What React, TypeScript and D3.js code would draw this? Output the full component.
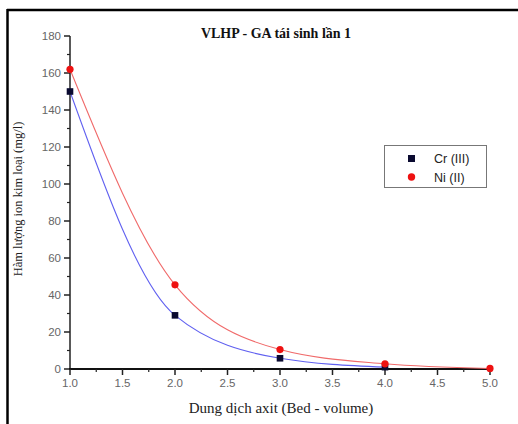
import React from "react";
import * as d3 from "d3";

const xValues = [1.0, 2.0, 3.0, 4.0, 5.0];
const crValues = [150, 29, 5.8, 1.0];
const niValues = [162, 45.5, 10.5, 2.8, 0.3];
const xTicks = [1.0, 1.5, 2.0, 2.5, 3.0, 3.5, 4.0, 4.5, 5.0];
const yTicks = [0, 20, 40, 60, 80, 100, 120, 140, 160, 180];
const legendLabels = ["Cr (III)", "Ni (II)"];

export default function App() {
  const W = 518, H = 424;
  const x = d3.scaleLinear().domain([1, 5]).range([70, 490]);
  const y = d3.scaleLinear().domain([0, 180]).range([369, 36]);
  const minorX = d3.range(1, 5.001, 0.25).filter((v) => !xTicks.some((t) => Math.abs(t - v) < 1e-6));
  const minorY = d3.range(10, 180, 20);
  const line = d3.line<[number, number]>().x((d) => x(d[0])).y((d) => y(d[1])).curve(d3.curveMonotoneX);
  const crPts: [number, number][] = crValues.map((v, i) => [xValues[i], v]);
  const niPts: [number, number][] = niValues.map((v, i) => [xValues[i], v]);
  const sans = "'Liberation Sans', Arial, sans-serif";
  const serif = "'Liberation Serif', 'Times New Roman', serif";
  return (
    <svg width={W} height={H} style={{ position: "absolute", left: 0, top: 0, background: "#fff" }}>
      <rect x={0} y={0} width={W} height={H} fill="#fff" />
      <line x1={7} y1={10} x2={W} y2={10} stroke="#000" strokeWidth={2.5} />
      <line x1={7.5} y1={9} x2={7.5} y2={H} stroke="#000" strokeWidth={2.5} />
      <text x={276} y={38} textAnchor="middle" fontFamily={serif} fontWeight="bold" fontSize={14} fill="#111">
        VLHP - GA tái sinh lần 1
      </text>
      {/* y axis */}
      <line x1={70} y1={y(180)} x2={70} y2={y(0)} stroke="#222" strokeWidth={1.5} />
      {yTicks.map((t) => (
        <g key={"yt" + t}>
          <line x1={64} x2={70} y1={y(t)} y2={y(t)} stroke="#222" strokeWidth={1.5} />
          <text x={61} y={y(t) + 4} textAnchor="end" fontFamily={sans} fontSize={11.5} fill="#666">
            {t}
          </text>
        </g>
      ))}
      {minorY.map((t) => (
        <line key={"ym" + t} x1={67} x2={70} y1={y(t)} y2={y(t)} stroke="#222" strokeWidth={1.2} />
      ))}
      {/* x axis */}
      <line x1={69} y1={y(0)} x2={491} y2={y(0)} stroke="#111" strokeWidth={2.2} />
      {xTicks.map((t) => (
        <g key={"xt" + t}>
          <line x1={x(t)} x2={x(t)} y1={y(0)} y2={y(0) + 6} stroke="#222" strokeWidth={1.5} />
          <text x={x(t)} y={y(0) + 18} textAnchor="middle" fontFamily={sans} fontSize={11.5} fill="#666">
            {t.toFixed(1)}
          </text>
        </g>
      ))}
      {minorX.map((t) => (
        <line key={"xm" + t} x1={x(t)} x2={x(t)} y1={y(0)} y2={y(0) + 3} stroke="#222" strokeWidth={1.2} />
      ))}
      <text x={281} y={413} textAnchor="middle" fontFamily={serif} fontSize={15} fill="#222">
        Dung dịch axit (Bed - volume)
      </text>
      <text transform={`translate(22,${199}) rotate(-90)`} textAnchor="middle" fontFamily={serif} fontSize={12.5} fill="#222">
        Hàm lượng ion kim loại (mg/l)
      </text>
      {/* curves */}
      <path d={line(crPts) || ""} fill="none" stroke="#6060f0" strokeWidth={1.1} />
      <path d={line(niPts) || ""} fill="none" stroke="#f06a6a" strokeWidth={1.1} />
      {crPts.map((p, i) => (
        <rect key={"cr" + i} x={x(p[0]) - 3.3} y={y(p[1]) - 3.3} width={6.6} height={6.6} fill="#0a0a30" />
      ))}
      {niPts.map((p, i) => (
        <circle key={"ni" + i} cx={x(p[0])} cy={y(p[1])} r={3.6} fill="#ee1111" />
      ))}
      {/* legend */}
      <rect x={384.5} y={145.5} width={102} height={42} fill="#fff" stroke="#777" strokeWidth={1} />
      <rect x={408} y={155} width={7} height={7} fill="#0a0a30" />
      <circle cx={411.5} cy={177} r={3.7} fill="#ee1111" />
      <text x={434} y={162.5} fontFamily={sans} fontSize={12.5} fill="#222">{legendLabels[0]}</text>
      <text x={434} y={181.5} fontFamily={sans} fontSize={12.5} fill="#222">{legendLabels[1]}</text>
    </svg>
  );
}
